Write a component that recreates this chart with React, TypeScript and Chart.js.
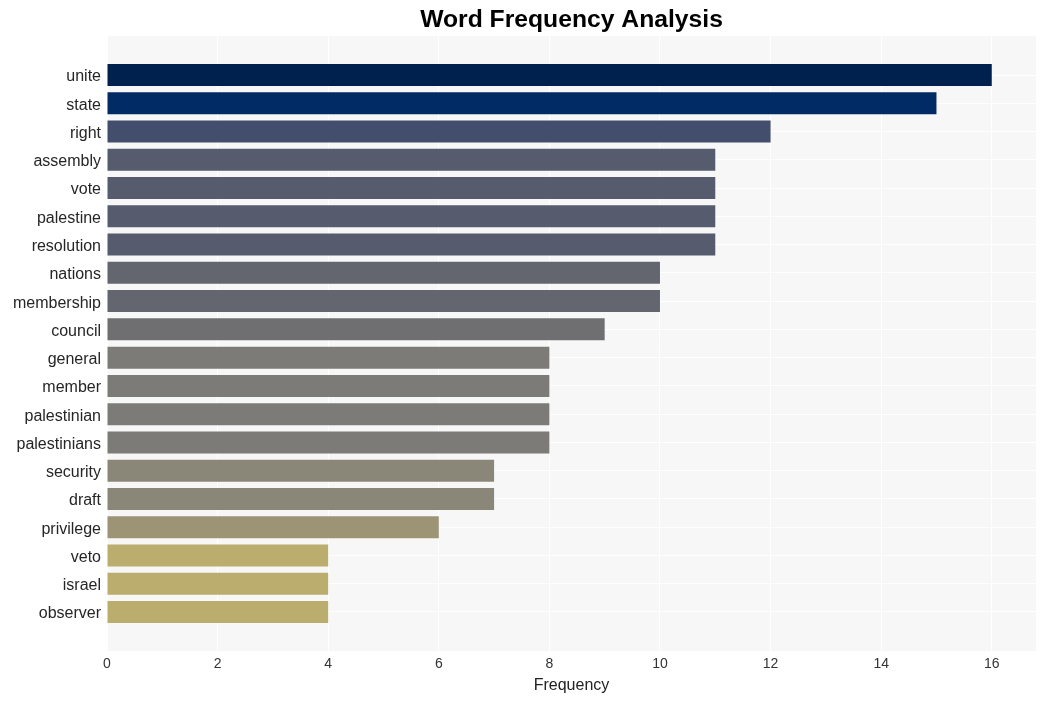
import React, { useEffect, useRef } from "react";
import { Chart, registerables } from "chart.js";

Chart.register(...registerables);

const words = [
  "unite", "state", "right", "assembly", "vote", "palestine", "resolution",
  "nations", "membership", "council", "general", "member", "palestinian",
  "palestinians", "security", "draft", "privilege", "veto", "israel", "observer",
];
const counts = [16, 15, 12, 11, 11, 11, 11, 10, 10, 9, 8, 8, 8, 8, 7, 7, 6, 4, 4, 4];
const barColors = [
  "#00204e", "#002b65", "#434e6c", "#565b6e", "#565b6e", "#565b6e", "#565b6e",
  "#63666f", "#63666f", "#6f6f72", "#7c7b78", "#7c7b78", "#7c7b78", "#7c7b78",
  "#8b8778", "#8b8778", "#9c9474", "#bbad6d", "#bbad6d", "#bbad6d",
];
const xTicks = [0, 2, 4, 6, 8, 10, 12, 14, 16];
const titleText = "Word Frequency Analysis";

const FONT = "'Liberation Sans', Arial, sans-serif";

const bgPlugin = {
  id: "plotBg",
  beforeDraw(chart: any) {
    const { ctx, chartArea } = chart;
    ctx.save();
    ctx.fillStyle = "#f7f7f7";
    ctx.fillRect(chartArea.left, chartArea.top, chartArea.right - chartArea.left, chartArea.bottom - chartArea.top);
    ctx.restore();
  },
  afterDraw(chart: any) {
    const { ctx, chartArea } = chart;
    ctx.save();
    ctx.fillStyle = "#000";
    ctx.font = `bold 24.7px ${FONT}`;
    ctx.textAlign = "center";
    ctx.textBaseline = "middle";
    ctx.fillText(titleText, (chartArea.left + chartArea.right) / 2, 20);
    ctx.restore();
  },
};

export default function App() {
  const ref = useRef<HTMLCanvasElement | null>(null);

  useEffect(() => {
    document.body.style.margin = "0";
    const canvas = ref.current;
    if (!canvas) return;
    const chart = new Chart(canvas, {
      type: "bar",
      data: {
        datasets: [
          {
            data: counts.map((v, i) => ({ x: v, y: i })),
            backgroundColor: barColors,
            borderWidth: 0,
            barPercentage: 0.778,
            categoryPercentage: 1,
          },
        ],
      },
      options: {
        indexAxis: "y",
        animation: false,
        responsive: false,
        maintainAspectRatio: false,
        layout: { padding: { left: 0, right: 10, top: 36, bottom: 0 } },
        plugins: {
          legend: { display: false },
          tooltip: { enabled: false },
          title: { display: false },
        },
        scales: {
          x: {
            type: "linear",
            position: "bottom",
            min: 0,
            max: 16.8,
            offset: false,
            afterBuildTicks(scale: any) {
              scale.ticks = xTicks.map((v) => ({ value: v }));
            },
            afterFit(scale: any) {
              scale.height = 50;
            },
            ticks: {
              color: "#333",
              font: { family: FONT, size: 14 },
              padding: 5,
            },
            grid: { color: "#ffffff", lineWidth: 1, drawTicks: false, offset: false },
            border: { display: false },
            title: {
              display: true,
              text: "Frequency",
              color: "#222",
              font: { family: FONT, size: 16 },
              padding: { top: 0, bottom: 6 },
            },
          },
          y: {
            type: "linear",
            reverse: true,
            min: -1.38,
            max: 20.38,
            offset: false,
            afterBuildTicks(scale: any) {
              scale.ticks = words.map((_, i) => ({ value: i }));
            },
            afterFit(scale: any) {
              scale.width = 107;
            },
            ticks: {
              autoSkip: false,
              color: "#262626",
              font: { family: FONT, size: 16 },
              padding: 6,
              labelOffset: 2,
              callback: (v: any) => words[v as number] ?? "",
            },
            grid: { color: "#ffffff", lineWidth: 1, drawTicks: false, offset: false },
            border: { display: false },
          },
        },
      },
      plugins: [bgPlugin],
    } as any);
    return () => chart.destroy();
  }, []);

  return (
    <div style={{ position: "absolute", left: 0, top: 0, width: 1046, height: 701 }}>
      <canvas ref={ref} width={1046} height={701} style={{ display: "block" }} />
    </div>
  );
}
